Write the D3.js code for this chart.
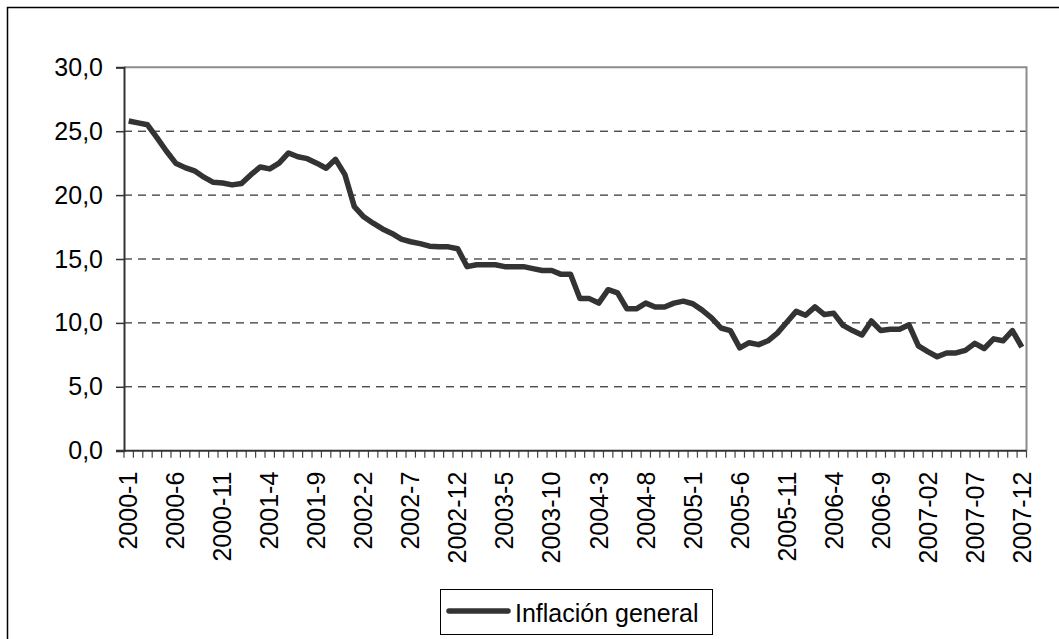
<!DOCTYPE html>
<html>
<head>
<meta charset="utf-8">
<script src="https://cdn.jsdelivr.net/npm/d3@7"></script>
<style>
  body { margin: 0; background: #fff; }
  svg { display: block; font-family: "Liberation Sans", Arial, sans-serif; }
</style>
</head>
<body>
<div id="chart"></div>
<script>
// Meses (categorías del eje X)
const meses = [
  "2000-1","2000-2","2000-3","2000-4","2000-5","2000-6","2000-7","2000-8","2000-9","2000-10","2000-11","2000-12",
  "2001-1","2001-2","2001-3","2001-4","2001-5","2001-6","2001-7","2001-8","2001-9","2001-10","2001-11","2001-12",
  "2002-1","2002-2","2002-3","2002-4","2002-5","2002-6","2002-7","2002-8","2002-9","2002-10","2002-11","2002-12",
  "2003-1","2003-2","2003-3","2003-4","2003-5","2003-6","2003-7","2003-8","2003-9","2003-10","2003-11","2003-12",
  "2004-1","2004-2","2004-3","2004-4","2004-5","2004-6","2004-7","2004-8","2004-9","2004-10","2004-11","2004-12",
  "2005-1","2005-2","2005-3","2005-4","2005-5","2005-6","2005-7","2005-8","2005-9","2005-10","2005-11","2005-12",
  "2006-1","2006-2","2006-3","2006-4","2006-5","2006-6","2006-7","2006-8","2006-9","2006-10","2006-11","2006-12",
  "2007-01","2007-02","2007-03","2007-04","2007-05","2007-06","2007-07","2007-08","2007-09","2007-10","2007-11","2007-12"
];

// Inflación general (%)
const inflacion = [
  25.8, 25.65, 25.5, 24.5, 23.45, 22.5, 22.15, 21.9, 21.4, 21.0, 20.95, 20.8,
  20.9, 21.6, 22.2, 22.05, 22.5, 23.3, 23.0, 22.85, 22.5, 22.1, 22.8, 21.6,
  19.1, 18.3, 17.8, 17.35, 17.0, 16.55, 16.35, 16.2, 16.0, 15.95, 15.95, 15.8,
  14.4, 14.55, 14.55, 14.55, 14.4, 14.4, 14.4, 14.25, 14.1, 14.1, 13.8, 13.8,
  11.9, 11.9, 11.55, 12.6, 12.35, 11.1, 11.1, 11.55, 11.25, 11.25, 11.55, 11.7,
  11.5, 11.0, 10.4, 9.6, 9.4, 8.05, 8.45, 8.3, 8.6, 9.2, 10.05, 10.9,
  10.6, 11.25, 10.65, 10.75, 9.8, 9.4, 9.05, 10.15, 9.4, 9.5, 9.5, 9.85,
  8.2, 7.75, 7.35, 7.65, 7.65, 7.85, 8.4, 8.0, 8.75, 8.6, 9.4, 8.1
];

// Ticks del eje Y
const ticksY = [0, 5, 10, 15, 20, 25, 30];
const nombreSerie = "Inflación general";

const width = 1059, height = 639;
const margin = { left: 124, right: 1059 - 1026.5, top: 67.3, bottom: 639 - 450.7 };
const tamFuente = 25;

const svg = d3.select("#chart").append("svg")
  .attr("width", width)
  .attr("height", height);

// Borde exterior (solo arriba e izquierda quedan visibles)
svg.append("path")
  .attr("d", `M7.5,${height} V7.5 H${width}`)
  .attr("fill", "none")
  .attr("stroke", "#000")
  .attr("stroke-width", 1.5);

const x = d3.scaleBand()
  .domain(meses)
  .range([margin.left, width - margin.right])
  .padding(0);

const y = d3.scaleLinear()
  .domain([0, 30])
  .range([height - margin.bottom, margin.top]);

const x0 = margin.left, x1 = width - margin.right;
const y0 = height - margin.bottom, y1 = margin.top;

// Líneas de cuadrícula discontinuas
svg.append("g")
  .selectAll("line")
  .data(ticksY.filter(d => d > 0 && d < 30))
  .enter().append("line")
  .attr("x1", x0).attr("x2", x1)
  .attr("y1", d => y(d)).attr("y2", d => y(d))
  .attr("stroke", "#000")
  .attr("stroke-width", 1)
  .attr("stroke-dasharray", "8,6");

// Borde del área de trazado (arriba y derecha en gris)
svg.append("path")
  .attr("d", `M${x0},${y1} H${x1} V${y0}`)
  .attr("fill", "none")
  .attr("stroke", "#8c8c8c")
  .attr("stroke-width", 2);

// Eje Y
const yAxis = svg.append("g")
  .attr("transform", `translate(${x0},0)`)
  .call(d3.axisLeft(y).tickValues(ticksY).tickSize(8).tickPadding(13)
    .tickFormat(d => d3.format(".1f")(d).replace(".", ",")));
yAxis.select(".domain").attr("stroke", "#333").attr("stroke-width", 2);
yAxis.selectAll(".tick line").attr("stroke", "#333").attr("stroke-width", 1.5);
yAxis.selectAll("text")
  .attr("font-size", tamFuente)
  .attr("fill", "#000")
  .attr("font-family", "Liberation Sans, Arial, sans-serif");

// Eje X: marcas en los límites de cada categoría
const bordes = meses.map(m => x(m)).concat([x1]);
svg.append("g")
  .selectAll("line")
  .data(bordes)
  .enter().append("line")
  .attr("x1", d => d).attr("x2", d => d)
  .attr("y1", y0).attr("y2", y0 + 7)
  .attr("stroke", "#444")
  .attr("stroke-width", 1.2);

svg.append("line")
  .attr("x1", x0 - 8).attr("x2", x1)
  .attr("y1", y0).attr("y2", y0)
  .attr("stroke", "#333")
  .attr("stroke-width", 2);

// Etiquetas del eje X (cada 5 meses), rotadas
svg.append("g")
  .selectAll("text")
  .data(meses.filter((d, i) => i % 5 === 0))
  .enter().append("text")
  .attr("transform", d => `translate(${x(d) + x.bandwidth() / 2},${y0 + 21}) rotate(-90)`)
  .attr("text-anchor", "end")
  .attr("dy", "0.35em")
  .attr("font-size", tamFuente)
  .attr("fill", "#000")
  .text(d => d);

// Línea de la serie
const linea = d3.line()
  .x((d, i) => x(meses[i]) + x.bandwidth() / 2)
  .y(d => y(d));

svg.append("path")
  .datum(inflacion)
  .attr("d", linea)
  .attr("fill", "none")
  .attr("stroke", "#333")
  .attr("stroke-width", 5.5)
  .attr("stroke-linejoin", "round");

// Leyenda
const leyenda = svg.append("g").attr("transform", "translate(440,589)");
leyenda.append("rect")
  .attr("x", 0.5).attr("y", 0.5)
  .attr("width", 272).attr("height", 45)
  .attr("fill", "#fff")
  .attr("stroke", "#000")
  .attr("stroke-width", 1);
leyenda.append("line")
  .attr("x1", 9).attr("x2", 68)
  .attr("y1", 22).attr("y2", 22)
  .attr("stroke", "#333")
  .attr("stroke-width", 5.5)
  .attr("stroke-linecap", "round");
leyenda.append("text")
  .attr("x", 75).attr("y", 33)
  .attr("font-size", tamFuente)
  .attr("fill", "#000")
  .text(nombreSerie);
</script>
</body>
</html>
